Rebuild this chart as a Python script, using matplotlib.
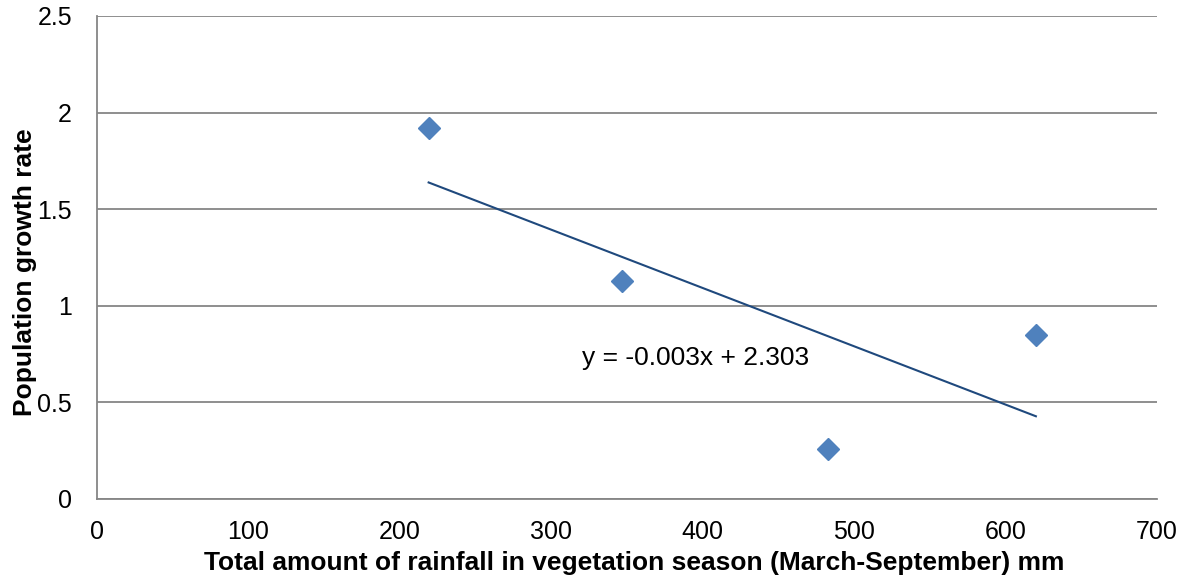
import numpy as np
import matplotlib
matplotlib.use('Agg')
import matplotlib.pyplot as plt

# rainfall (mm) vs population growth rate
rainfall = [219, 347, 483, 620]
growth_rate = [1.92, 1.13, 0.26, 0.85]

x_ticks = [0, 100, 200, 300, 400, 500, 600, 700]
y_ticks = [0, 0.5, 1, 1.5, 2, 2.5]
y_tick_labels = ['0', '0.5', '1', '1.5', '2', '2.5']

trend_label = 'y = -0.003x + 2.303'

MARKER_COLOUR = '#4F81BD'
TREND_COLOUR = '#1F497D'
GRID_COLOUR = '#868686'

plt.rcParams['font.family'] = ['Liberation Sans', 'DejaVu Sans']

fig = plt.figure(figsize=(11.9, 5.83), dpi=100)
ax = fig.add_axes([0.0815, 0.1441, 0.8908, 0.8285])

# linear trend line over the data range
slope, intercept = np.polyfit(rainfall, growth_rate, 1)
xs = np.array([min(rainfall), max(rainfall)])
ax.plot(xs, slope * xs + intercept, color=TREND_COLOUR, lw=1.5, zorder=3)

ax.plot(rainfall, growth_rate, linestyle='none', marker='D', ms=11,
        color=MARKER_COLOUR, markeredgecolor=MARKER_COLOUR, zorder=4)

ax.text(320, 0.73, trend_label, fontsize=19, ha='left', va='center')

ax.set_xlim(0, 700)
ax.set_ylim(0, 2.5)
ax.set_xticks(x_ticks)
ax.set_yticks(y_ticks)
ax.set_yticklabels(y_tick_labels)
ax.tick_params(axis='both', length=0, labelsize=18)
ax.tick_params(axis='x', pad=15)
ax.tick_params(axis='y', pad=18)

ax.grid(True, axis='y', color=GRID_COLOUR, lw=1.3)
ax.set_axisbelow(True)
for side in ('top', 'right'):
    ax.spines[side].set_visible(False)
for side in ('left', 'bottom'):
    ax.spines[side].set_color(GRID_COLOUR)
    ax.spines[side].set_linewidth(1.3)

ax.set_xlabel('Total amount of rainfall in vegetation season (March-September) mm',
              fontsize=19, fontweight='bold')
ax.set_ylabel('Population growth rate', fontsize=19, fontweight='bold')
ax.xaxis.set_label_coords(0.5066, -0.108)
ax.yaxis.set_label_coords(-0.057, 0.47)

fig.savefig('out.png', dpi=100)
